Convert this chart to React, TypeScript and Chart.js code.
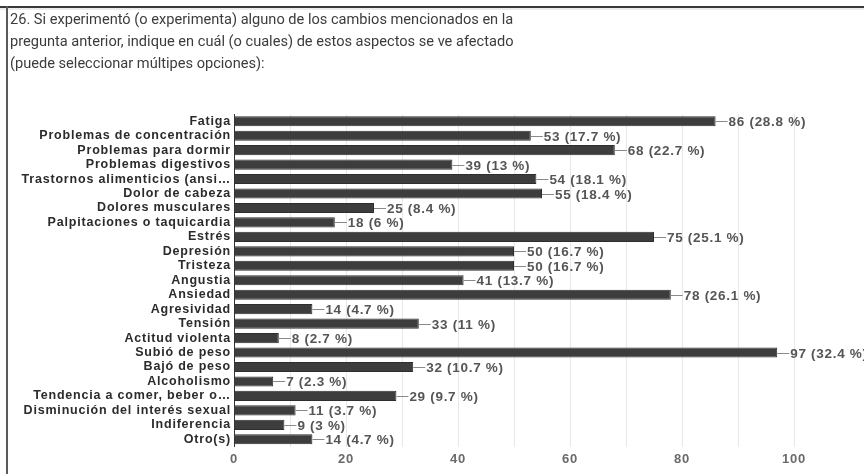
import React, { useEffect, useRef } from "react";
import { Chart, registerables } from "chart.js";

Chart.register(...registerables);

const categories = [
  "Fatiga",
  "Problemas de concentración",
  "Problemas para dormir",
  "Problemas digestivos",
  "Trastornos alimenticios (ansi…",
  "Dolor de cabeza",
  "Dolores musculares",
  "Palpitaciones o taquicardia",
  "Estrés",
  "Depresión",
  "Tristeza",
  "Angustia",
  "Ansiedad",
  "Agresividad",
  "Tensión",
  "Actitud violenta",
  "Subió de peso",
  "Bajó de peso",
  "Alcoholismo",
  "Tendencia a comer, beber o…",
  "Disminución del interés sexual",
  "Indiferencia",
  "Otro(s)",
];

const counts = [86, 53, 68, 39, 54, 55, 25, 18, 75, 50, 50, 41, 78, 14, 33, 8, 97, 32, 7, 29, 11, 9, 14];

const percents = [
  "28.8", "17.7", "22.7", "13", "18.1", "18.4", "8.4", "6", "25.1", "16.7", "16.7", "13.7",
  "26.1", "4.7", "11", "2.7", "32.4", "10.7", "2.3", "9.7", "3.7", "3", "4.7",
];

const xTicks = [0, 20, 40, 60, 80, 100];

const titleLines = [
  "26. Si experimentó (o experimenta) alguno de los cambios mencionados en la",
  "pregunta anterior, indique en cuál (o cuales) de estos aspectos se ve afectado",
  "(puede seleccionar múltipes opciones):",
];

const valueLabelPlugin = {
  id: "valueLabels",
  beforeDraw(chart: any) {
    chart.ctx.letterSpacing = "0.8px";
  },
  afterDatasetsDraw(chart: any) {
    const ctx = chart.ctx;
    const meta = chart.getDatasetMeta(0);
    ctx.save();
    ctx.letterSpacing = "0.7px";
    meta.data.forEach((bar: any, i: number) => {
      const x = bar.x;
      const y = Math.round(bar.y) + 0.5;
      ctx.strokeStyle = "#8a8a8a";
      ctx.lineWidth = 1;
      ctx.beginPath();
      ctx.moveTo(x, y);
      ctx.lineTo(x + 12, y);
      ctx.stroke();
      ctx.fillStyle = "#555555";
      ctx.font = "bold 13.5px 'Liberation Sans', Arial, sans-serif";
      ctx.textAlign = "left";
      ctx.textBaseline = "middle";
      ctx.fillText(`${counts[i]} (${percents[i]} %)`, x + 13, y + 0.5);
    });
    ctx.restore();
  },
  afterDraw(chart: any) {
    chart.ctx.letterSpacing = "0px";
  },
};

function BarChart() {
  const ref = useRef<HTMLCanvasElement | null>(null);
  useEffect(() => {
    if (!ref.current) return;
    const chart = new Chart(ref.current, {
      type: "bar",
      data: {
        labels: categories,
        datasets: [
          {
            data: counts,
            backgroundColor: "#3d3d3d",
            borderColor: "#2e2e2e",
            borderWidth: 1,
            barPercentage: 0.7,
            categoryPercentage: 1,
          },
        ],
      },
      options: {
        indexAxis: "y",
        responsive: false,
        animation: false,
        layout: { padding: { top: 114, right: 70, left: 0, bottom: 0 } },
        plugins: {
          legend: { display: false },
          tooltip: { enabled: false },
          title: { display: false },
        },
        scales: {
          x: {
            min: 0,
            max: 100,
            ticks: {
              stepSize: 10,
              padding: 5,
              color: "#6a6a6a",
              font: { family: "'Liberation Sans', Arial, sans-serif", size: 13, weight: "bold" },
              callback: (v: any) => (xTicks.includes(Number(v)) ? String(v) : ""),
            },
            grid: { color: "#e8e8e8", lineWidth: 1, drawTicks: false },
            border: { display: false },
            afterFit: (s: any) => {
              s.height = 27.5;
            },
          },
          y: {
            ticks: {
              autoSkip: false,
              padding: 3,
              color: "#2b2b2b",
              font: { family: "'Liberation Sans', Arial, sans-serif", size: 12.5, weight: "bold" },
            },
            grid: { display: false, drawTicks: false },
            border: { display: true, color: "#333333", width: 1 },
            afterFit: (s: any) => {
              s.width = 234;
            },
          },
        },
      } as any,
      plugins: [valueLabelPlugin],
    });
    return () => chart.destroy();
  }, []);
  return <canvas ref={ref} width={864} height={474} style={{ position: "absolute", left: 0, top: 0 }} />;
}

export default function App() {
  useEffect(() => {
    document.body.style.margin = "0";
  }, []);
  return (
    <div style={{ position: "relative", width: 864, height: 474, background: "#ffffff", overflow: "hidden" }}>
      <BarChart />
      <div style={{ position: "absolute", left: 0, top: 6, width: 864, height: 2, background: "#3a3a3a" }} />
      <div style={{ position: "absolute", left: 0, top: 8, width: 864, height: 2, background: "#ececec" }} />
      <div style={{ position: "absolute", left: 6, top: 6, width: 2, height: 468, background: "#5a5a5a" }} />
      <div
        style={{
          position: "absolute",
          left: 10,
          top: 8,
          fontFamily: "Roboto, 'Noto Sans', sans-serif",
          fontSize: 14.6,
          lineHeight: "22px",
          color: "#3c3c3c",
          whiteSpace: "nowrap",
        }}
      >
        {titleLines.map((t, i) => (
          <div key={i}>{t}</div>
        ))}
      </div>
    </div>
  );
}
